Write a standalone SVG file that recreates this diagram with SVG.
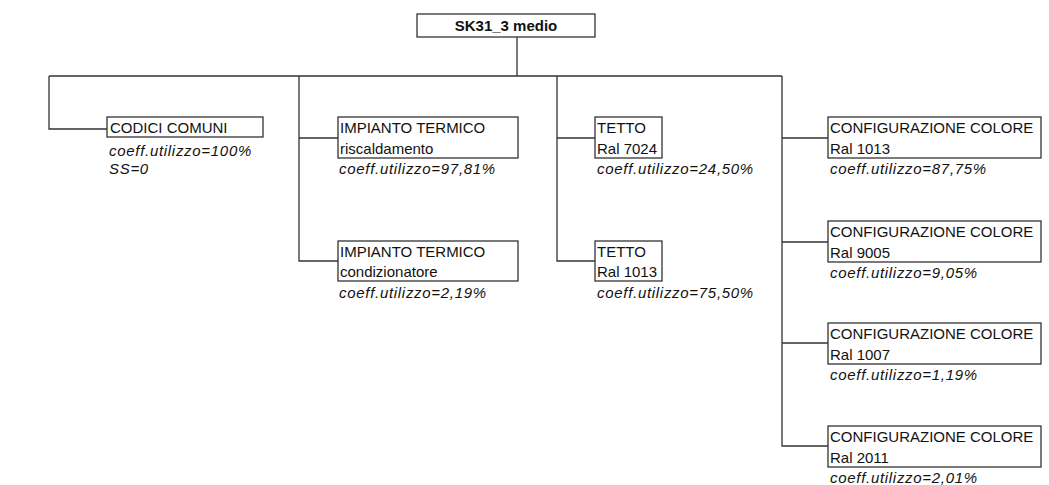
<svg xmlns="http://www.w3.org/2000/svg" width="1049" height="485" viewBox="0 0 1049 485">
<style>
.bx{fill:#fff;stroke:#333;stroke-width:1.3}
.ln{fill:none;stroke:#333;stroke-width:1.3}
text{font-family:"Liberation Sans",Arial,sans-serif;font-size:15px;fill:#111}
.b{font-weight:bold}
.i{font-style:italic;letter-spacing:0.7px}
</style>
<rect width="1049" height="485" fill="#fff"/>
<g id="connectors">
<path class="ln" d="M517 37V76M49 76H782M49 76V129H107M299 76V261H338M299 138H338M557 76V261H595M557 138H595M782 76V446H828M782 138H828M782 242H828M782 343H828"/>
</g>
<g id="root">
<rect class="bx" x="417" y="14" width="178" height="23"/>
<text class="b" x="506" y="31" text-anchor="middle">SK31_3 medio</text>
</g>
<g id="codici">
<rect class="bx" x="107" y="117" width="156" height="20"/>
<text x="110" y="133">CODICI COMUNI</text>
<text class="i" x="109" y="156">coeff.utilizzo=100%</text>
<text class="i" x="109" y="174">SS=0</text>
</g>
<g id="impianto1">
<rect class="bx" x="338" y="117" width="180" height="41"/>
<text x="340" y="133">IMPIANTO TERMICO</text>
<text x="340" y="154">riscaldamento</text>
<text class="i" x="339" y="174">coeff.utilizzo=97,81%</text>
</g>
<g id="impianto2">
<rect class="bx" x="338" y="241" width="180" height="40"/>
<text x="340" y="257">IMPIANTO TERMICO</text>
<text x="340" y="277">condizionatore</text>
<text class="i" x="339" y="298">coeff.utilizzo=2,19%</text>
</g>
<g id="tetto1">
<rect class="bx" x="595" y="117" width="67" height="41"/>
<text x="597" y="133">TETTO</text>
<text x="597" y="154">Ral 7024</text>
<text class="i" x="597" y="174">coeff.utilizzo=24,50%</text>
</g>
<g id="tetto2">
<rect class="bx" x="595" y="241" width="67" height="40"/>
<text x="597" y="257">TETTO</text>
<text x="597" y="277">Ral 1013</text>
<text class="i" x="597" y="298">coeff.utilizzo=75,50%</text>
</g>
<g id="config1">
<rect class="bx" x="828" y="117" width="213" height="41"/>
<text x="830" y="133">CONFIGURAZIONE COLORE</text>
<text x="830" y="154">Ral 1013</text>
<text class="i" x="830" y="174">coeff.utilizzo=87,75%</text>
</g>
<g id="config2">
<rect class="bx" x="828" y="221" width="213" height="41"/>
<text x="830" y="237">CONFIGURAZIONE COLORE</text>
<text x="830" y="258">Ral 9005</text>
<text class="i" x="830" y="278">coeff.utilizzo=9,05%</text>
</g>
<g id="config3">
<rect class="bx" x="828" y="323" width="213" height="41"/>
<text x="830" y="339">CONFIGURAZIONE COLORE</text>
<text x="830" y="360">Ral 1007</text>
<text class="i" x="830" y="380">coeff.utilizzo=1,19%</text>
</g>
<g id="config4">
<rect class="bx" x="828" y="426" width="213" height="41"/>
<text x="830" y="442">CONFIGURAZIONE COLORE</text>
<text x="830" y="463">Ral 2011</text>
<text class="i" x="830" y="483">coeff.utilizzo=2,01%</text>
</g>
</svg>
